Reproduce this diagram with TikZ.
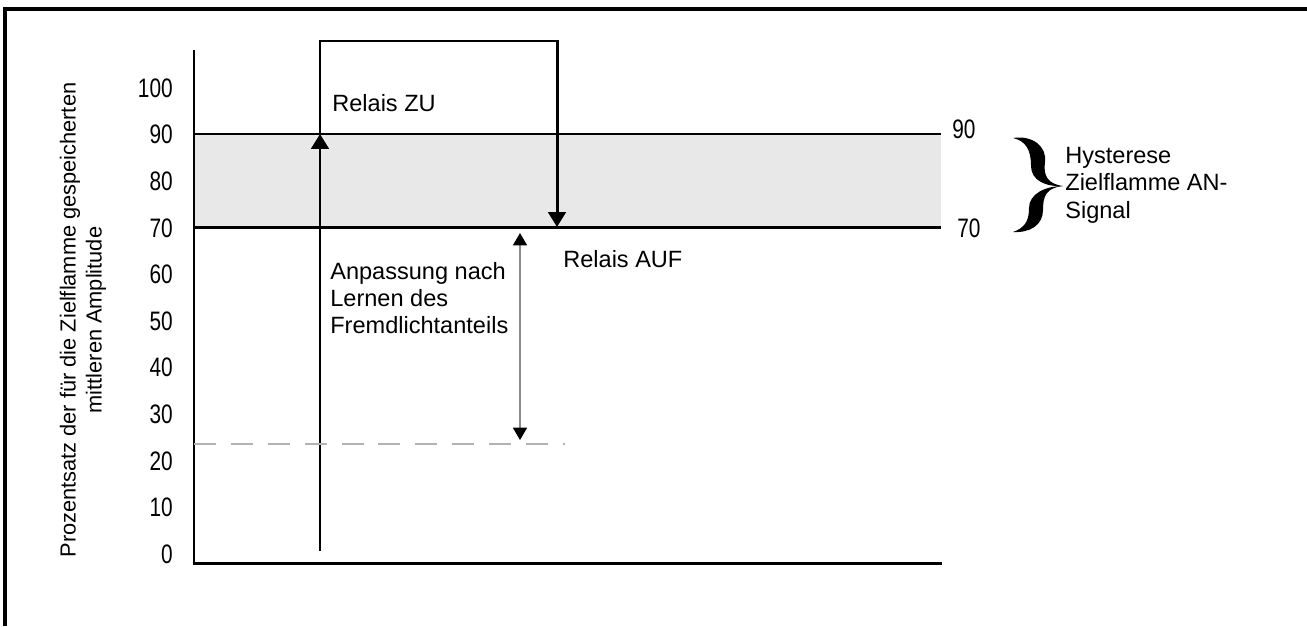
\documentclass[tikz,border=0pt]{standalone}
\usepackage{fontspec}
\setmainfont{Liberation Sans}
\usetikzlibrary{arrows.meta}

\begin{document}
\begin{tikzpicture}[x=0.02cm,y=-0.02cm]
\path[use as bounding box] (0,0) rectangle (1307,626);

\tikzstyle{every node}+=[inner sep=0pt]
\tikzstyle{txt}=[font=\fontsize{13.4}{15.6}\selectfont,align=left]
\tikzstyle{tick}=[font=\fontsize{15.2}{18}\selectfont,xscale=0.78]
\tikzstyle{line}=[line width=1.7pt]
\tikzstyle{big}=[line width=1.7pt,-{Triangle[width=10pt,length=8.5pt]}]
\tikzstyle{thin}=[line width=0.6pt,draw=gray!90,{Triangle[width=8pt,length=7pt,color=black]}-{Triangle[width=8pt,length=7pt,color=black]}]

% frame
\draw[line width=1.9pt] (5,626) -- (5,9) -- (1307,9);

% hysteresis band
\fill[gray!18] (194,134) rectangle (941,227);
\draw[line] (194,134) -- (941,134);
\draw[line] (194,227) -- (941,227);

% axes
\draw[line] (194,50) -- (194,563) -- (942,563);
\foreach \v in {0,10,...,100}
  \node[tick,anchor=east] (t\v) at (173,554-4.66*\v) {\v};
\node[tick,anchor=west] (r90) at (952,129) {90};
\node[tick,anchor=west] (r70) at (957,228) {70};

\node[rotate=90,align=center,font=\fontsize{12.4}{14.7}\selectfont] (ylab) at (83,320)
  {Prozentsatz der für die Zielflamme gespeicherten\\mittleren Amplitude};

% relay path
\coordinate (start) at (320,551);
\coordinate (on) at (320,134);
\coordinate (tl) at (320,41);
\coordinate (tr) at (557,41);
\coordinate (off) at (557,227);
\draw[big] (start) -- (on);
\draw[big] (on) -- (tl) -- (tr) -- (off);

% learned offset
\draw[gray!60,line width=0.9pt,dash pattern=on 12.5pt off 8.5pt] (194,444) -- (565,444);
\coordinate (a1) at (520,233);
\coordinate (a2) at (520,440);
\draw[thin] (a1) -- (a2);

\node[txt,anchor=west] (zu) at (332,103) {Relais ZU};
\node[txt,anchor=west] (auf) at (563,259) {Relais AUF};
\node[txt,anchor=west] (lern) at (330,298) {Anpassung nach\\Lernen des\\Fremdlichtanteils};

% brace
\fill (1013,138) .. controls (1032,135) and (1047,146) .. (1045,162)
  .. controls (1043,176) and (1048,184) .. (1063,186)
  .. controls (1045,187) and (1031,180) .. (1031,166)
  .. controls (1031,150) and (1026,141) .. (1013,138) -- cycle;
\fill (1063,186) .. controls (1046,188) and (1043,196) .. (1043,210)
  .. controls (1043,225) and (1030,233) .. (1013,232)
  .. controls (1024,228) and (1029,222) .. (1029,208)
  .. controls (1029,194) and (1045,186) .. (1063,186) -- cycle;
\node[txt,anchor=west] (hyst) at (1065,185) {Hysterese\\Zielflamme AN-\\Signal};
\end{tikzpicture}
\end{document}
